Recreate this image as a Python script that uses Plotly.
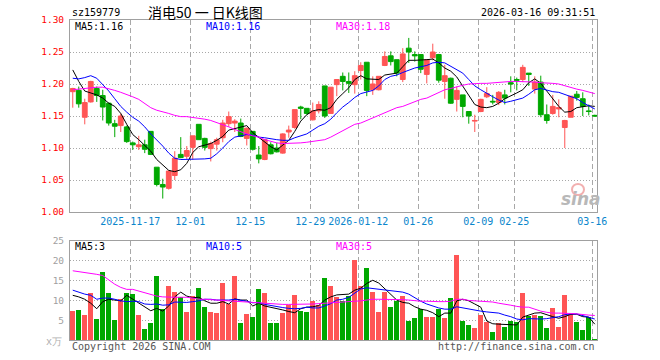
import plotly.graph_objects as go

# ---------------- data ----------------
days = {
    "2025-11": [3, 4, 5, 6, 7, 10, 11, 12, 13, 14, 17, 18, 19, 20, 21, 24, 25, 26, 27, 28],
    "2025-12": [1, 2, 3, 4, 5, 8, 9, 10, 11, 12, 15, 16, 17, 18, 19, 22, 23, 24, 25, 26, 29, 30, 31],
    "2026-01": [5, 6, 7, 8, 9, 12, 13, 14, 15, 16, 19, 20, 21, 22, 23, 26, 27, 28, 29, 30],
    "2026-02": [2, 3, 4, 5, 6, 9, 10, 11, 12, 13, 24, 25, 26, 27],
    "2026-03": [2, 3, 4, 5, 6, 9, 10, 11, 12, 13, 16],
}
dates = [f"{m}-{d:02d}" for m, ds in days.items() for d in ds]

opens = [1.188, 1.190, 1.148, 1.172, 1.193, 1.182, 1.170, 1.138, 1.135, 1.133,
         1.108, 1.102, 1.105, 1.126, 1.070, 1.043, 1.037, 1.057, 1.090, 1.087,
         1.101, 1.137, 1.115, 1.099, 1.106, 1.116, 1.138, 1.139, 1.139, 1.115,
         1.126, 1.089, 1.082, 1.105, 1.100, 1.092, 1.125, 1.132, 1.164, 1.162,
         1.144, 1.158, 1.197, 1.154, 1.199, 1.212, 1.204, 1.199, 1.221, 1.234,
         1.191, 1.191, 1.229, 1.244, 1.238, 1.207, 1.256, 1.246, 1.246, 1.215,
         1.241, 1.246, 1.204, 1.209, 1.176, 1.183, 1.157, 1.142, 1.157, 1.180,
         1.173, 1.171, 1.183, 1.202, 1.207, 1.207, 1.217, 1.192, 1.203, 1.152,
         1.154, 1.161, 1.132, 1.148, 1.184, 1.177, 1.158, 1.151]
highs = [1.194, 1.196, 1.177, 1.205, 1.196, 1.191, 1.171, 1.144, 1.154, 1.135,
         1.110, 1.119, 1.113, 1.126, 1.070, 1.052, 1.064, 1.095, 1.117, 1.103,
         1.119, 1.137, 1.116, 1.110, 1.116, 1.144, 1.157, 1.145, 1.146, 1.132,
         1.126, 1.103, 1.114, 1.109, 1.108, 1.123, 1.135, 1.160, 1.166, 1.162,
         1.171, 1.173, 1.197, 1.195, 1.207, 1.218, 1.218, 1.220, 1.234, 1.234,
         1.212, 1.212, 1.251, 1.251, 1.238, 1.256, 1.272, 1.251, 1.246, 1.239,
         1.263, 1.247, 1.230, 1.210, 1.196, 1.183, 1.157, 1.152, 1.177, 1.195,
         1.183, 1.189, 1.191, 1.212, 1.210, 1.230, 1.217, 1.212, 1.213, 1.168,
         1.183, 1.176, 1.144, 1.181, 1.189, 1.187, 1.168, 1.152]
lows = [1.163, 1.163, 1.137, 1.171, 1.172, 1.143, 1.135, 1.117, 1.125, 1.108,
        1.097, 1.097, 1.092, 1.089, 1.040, 1.021, 1.035, 1.050, 1.084, 1.083,
        1.082, 1.113, 1.096, 1.079, 1.096, 1.109, 1.133, 1.125, 1.117, 1.104,
        1.096, 1.076, 1.081, 1.090, 1.093, 1.091, 1.116, 1.130, 1.145, 1.152,
        1.143, 1.154, 1.147, 1.154, 1.181, 1.190, 1.186, 1.185, 1.207, 1.181,
        1.183, 1.190, 1.228, 1.229, 1.212, 1.203, 1.233, 1.235, 1.217, 1.201,
        1.237, 1.202, 1.177, 1.169, 1.157, 1.148, 1.138, 1.125, 1.156, 1.178,
        1.168, 1.167, 1.168, 1.187, 1.190, 1.203, 1.197, 1.185, 1.148, 1.138,
        1.152, 1.148, 1.100, 1.148, 1.174, 1.150, 1.151, 1.149]
closes = [1.193, 1.169, 1.171, 1.204, 1.182, 1.164, 1.139, 1.134, 1.150, 1.110,
          1.105, 1.105, 1.098, 1.090, 1.043, 1.039, 1.064, 1.084, 1.085, 1.096,
          1.119, 1.113, 1.101, 1.107, 1.113, 1.139, 1.149, 1.142, 1.118, 1.131,
          1.098, 1.083, 1.113, 1.091, 1.094, 1.122, 1.128, 1.160, 1.162, 1.154,
          1.158, 1.168, 1.150, 1.195, 1.207, 1.204, 1.201, 1.213, 1.229, 1.190,
          1.200, 1.212, 1.243, 1.235, 1.217, 1.247, 1.250, 1.244, 1.223, 1.238,
          1.250, 1.206, 1.213, 1.170, 1.190, 1.165, 1.150, 1.143, 1.176, 1.185,
          1.172, 1.187, 1.178, 1.200, 1.206, 1.226, 1.215, 1.203, 1.152, 1.143,
          1.165, 1.163, 1.143, 1.181, 1.179, 1.165, 1.157, 1.150]

ma5 = [1.222, 1.204, 1.189, 1.186, 1.183, 1.178, 1.170, 1.165, 1.154, 1.137,
       1.121, 1.113, 1.104, 1.095, 1.082, 1.074, 1.065, 1.063, 1.066, 1.076,
       1.093, 1.102, 1.104, 1.107, 1.112, 1.118, 1.128, 1.130, 1.133, 1.135,
       1.124, 1.117, 1.109, 1.102, 1.097, 1.104, 1.112, 1.126, 1.142, 1.152,
       1.158, 1.160, 1.159, 1.163, 1.176, 1.185, 1.194, 1.207, 1.213, 1.208,
       1.207, 1.207, 1.214, 1.215, 1.217, 1.227, 1.237, 1.237, 1.237, 1.238,
       1.239, 1.233, 1.225, 1.220, 1.211, 1.196, 1.183, 1.168, 1.164, 1.163,
       1.165, 1.170, 1.177, 1.181, 1.186, 1.191, 1.202, 1.208, 1.201, 1.189,
       1.177, 1.165, 1.156, 1.157, 1.163, 1.165, 1.166, 1.165]
ma10 = [1.209, 1.208, 1.210, 1.213, 1.209, 1.199, 1.189, 1.177, 1.165, 1.156,
        1.148, 1.142, 1.133, 1.122, 1.113, 1.103, 1.092, 1.084, 1.082, 1.082,
        1.082, 1.082, 1.083, 1.084, 1.091, 1.100, 1.110, 1.117, 1.119, 1.121,
        1.120, 1.117, 1.116, 1.114, 1.113, 1.112, 1.112, 1.116, 1.119, 1.122,
        1.128, 1.134, 1.138, 1.145, 1.155, 1.164, 1.171, 1.179, 1.185, 1.188,
        1.190, 1.197, 1.207, 1.212, 1.214, 1.218, 1.222, 1.225, 1.227, 1.229,
        1.233, 1.234, 1.233, 1.228, 1.223, 1.217, 1.207, 1.197, 1.191, 1.185,
        1.180, 1.175, 1.171, 1.173, 1.176, 1.178, 1.184, 1.191, 1.193, 1.190,
        1.188, 1.187, 1.184, 1.180, 1.177, 1.171, 1.166, 1.161]
ma30 = [1.191, 1.192, 1.194, 1.195, 1.195, 1.195, 1.193, 1.190, 1.187, 1.184,
        1.180, 1.176, 1.169, 1.163, 1.159, 1.157, 1.154, 1.151, 1.149, 1.149,
        1.148, 1.146, 1.145, 1.143, 1.140, 1.137, 1.133, 1.129, 1.125, 1.122,
        1.119, 1.117, 1.113, 1.110, 1.108, 1.107, 1.107, 1.107, 1.108, 1.109,
        1.110, 1.112, 1.113, 1.117, 1.122, 1.128, 1.133, 1.137, 1.139, 1.143,
        1.147, 1.151, 1.156, 1.160, 1.163, 1.165, 1.169, 1.173, 1.176, 1.178,
        1.182, 1.187, 1.191, 1.193, 1.196, 1.198, 1.200, 1.201, 1.201, 1.201,
        1.202, 1.203, 1.204, 1.204, 1.204, 1.204, 1.204, 1.203, 1.202, 1.202,
        1.201, 1.200, 1.197, 1.195, 1.192, 1.190, 1.188, 1.185]

volume = [7.3, 7.6, 6.3, 11.8, 5.3, 17.1, 11.8, 5.1, 10.3, 11.8,
          11.6, 6.3, 2.8, 4.3, 16.1, 7.8, 13.6, 12.2, 10.8, 7.1,
          11.2, 13.1, 8.3, 7.1, 6.8, 14.3, 9.1, 16.1, 4.3, 6.6,
          5.8, 12.8, 11.8, 4.3, 4.3, 6.8, 8.8, 11.3, 7.3, 7.1,
          9.8, 8.8, 15.8, 13.6, 10.9, 9.9, 11.1, 20.1, 13.6, 18.1,
          12.1, 7.1, 12.1, 8.3, 9.8, 11.1, 4.8, 5.6, 7.8, 5.8,
          5.8, 7.8, 5.6, 10.6, 21.6, 4.8, 3.8, 3.1, 6.3, 4.6,
          2.1, 4.3, 3.3, 4.8, 4.6, 11.8, 6.1, 6.3, 6.1, 3.1,
          8.1, 3.3, 11.3, 6.6, 4.6, 2.6, 5.8, 0.3]
vma5 = [11.3, 10.9, 10.3, 9.3, 7.9, 9.7, 10.3, 10.1, 9.9, 11.3,
        10.3, 9.4, 8.3, 7.4, 8.0, 7.3, 8.6, 10.9, 12.1, 11.1,
        10.7, 10.8, 9.9, 9.3, 9.3, 9.7, 9.1, 10.4, 10.1, 10.1,
        8.6, 9.3, 8.6, 8.3, 8.0, 7.6, 7.2, 6.9, 7.9, 8.3,
        8.4, 8.7, 10.1, 10.9, 11.4, 11.5, 11.6, 12.6, 13.1, 14.3,
        15.1, 14.4, 12.9, 11.6, 10.1, 9.5, 9.3, 8.4, 7.8, 7.5,
        6.9, 5.9, 6.8, 6.8, 9.9, 10.3, 9.9, 9.1, 8.3, 4.8,
        4.1, 4.0, 3.9, 3.9, 3.8, 5.8, 6.3, 6.8, 6.9, 6.3,
        5.9, 5.5, 5.9, 6.5, 6.5, 5.9, 5.8, 4.0]
vma10 = [12.6, 12.1, 11.6, 11.3, 10.3, 10.6, 10.6, 10.3, 9.9, 9.7,
         9.8, 9.7, 9.1, 9.0, 9.1, 8.8, 8.9, 9.6, 9.6, 9.5,
         9.7, 9.9, 10.3, 10.3, 10.1, 10.1, 10.1, 10.3, 10.1, 9.8,
         9.4, 9.5, 9.0, 8.7, 8.4, 8.2, 8.0, 7.9, 8.0, 8.3,
         8.1, 8.1, 8.6, 9.2, 10.1, 10.3, 10.8, 11.9, 12.9, 13.2,
         13.0, 12.8, 12.6, 12.4, 12.2, 12.1, 11.6, 10.6, 9.8, 9.1,
         8.6, 8.1, 7.8, 7.8, 8.4, 8.1, 7.8, 7.6, 7.3, 7.1,
         6.9, 6.8, 6.3, 5.9, 5.3, 5.1, 5.4, 5.3, 5.3, 5.4,
         5.6, 5.9, 6.4, 6.6, 6.6, 6.1, 5.8, 5.3]
vma30 = [17.5, 17.3, 17.1, 16.9, 16.6, 16.3, 15.1, 14.1, 13.3, 12.8,
         12.8, 12.4, 11.9, 11.4, 11.1, 10.9, 10.8, 10.8, 10.8, 10.8,
         10.6, 10.3, 10.3, 10.2, 10.1, 10.0, 9.9, 9.8, 9.7, 9.6,
         9.4, 9.3, 9.3, 9.1, 9.0, 9.0, 9.0, 9.0, 9.0, 9.1,
         9.1, 9.2, 9.3, 9.3, 9.4, 9.5, 9.7, 9.8, 9.9, 10.1,
         10.3, 10.3, 10.3, 10.3, 10.3, 10.2, 10.1, 9.9, 9.8, 9.8,
         9.7, 9.7, 9.7, 9.8, 10.3, 10.3, 10.0, 9.9, 9.8, 9.7,
         9.6, 9.3, 9.1, 8.8, 8.5, 8.3, 8.3, 7.8, 7.3, 7.0,
         6.8, 6.8, 6.8, 6.7, 6.6, 6.4, 6.3, 6.2]

# legend readouts as shown on the chart
price_ma_labels = ["MA5:1.16", "MA10:1.16", "MA30:1.18"]
vol_ma_labels = ["MA5:3", "MA10:5", "MA30:5"]

tick_dates = ["2025-11-17", "2025-12-01", "2025-12-15", "2025-12-29", "2026-01-12",
              "2026-01-26", "2026-02-09", "2026-02-25", "2026-03-16"]
tick_text = ["2025-11-17", "12-01", "12-15", "12-29", "2026-01-12",
             "01-26", "02-09", "02-25", "03-16"]
price_ticks = [1.00, 1.05, 1.10, 1.15, 1.20, 1.25, 1.30]
vol_ticks = [5, 10, 15, 20, 25]

# ---------------- style ----------------
RED = "#ff5555"
GREEN = "#00a800"
BLUE_TXT = "#0a86cc"
FRAME = "#a0a0a0"
GRID = "#a8a8a8"
MONO = "DejaVu Sans Mono, Liberation Mono, monospace"
MA_COLORS = ["black", "#0000ff", "#ff00ff"]

x = list(range(len(dates)))
tick_pos = [dates.index(d) - 0.42 for d in tick_dates]
vol_colors = [RED if c >= o else GREEN for o, c in zip(opens, closes)]

fig = go.Figure()
fig.add_trace(go.Candlestick(
    x=x, open=opens, high=highs, low=lows, close=closes,
    increasing=dict(line=dict(color=RED, width=1), fillcolor=RED),
    decreasing=dict(line=dict(color=GREEN, width=1), fillcolor=GREEN),
    whiskerwidth=0, hoverinfo="skip", xaxis="x", yaxis="y", showlegend=False))
for arr, col in zip([ma5, ma10, ma30], MA_COLORS):
    fig.add_trace(go.Scatter(x=x, y=arr, mode="lines", line=dict(color=col, width=1),
                             hoverinfo="skip", xaxis="x", yaxis="y", showlegend=False))

fig.add_trace(go.Bar(x=x, y=volume, width=0.83, marker=dict(color=vol_colors, line=dict(width=0)),
                     hoverinfo="skip", xaxis="x2", yaxis="y2", showlegend=False))
for arr, col in zip([vma5, vma10, vma30], MA_COLORS):
    fig.add_trace(go.Scatter(x=x, y=arr, mode="lines", line=dict(color=col, width=1),
                             hoverinfo="skip", xaxis="x2", yaxis="y2", showlegend=False))

xr = [-0.46, 87.37]
common_x = dict(range=xr, showgrid=True, gridcolor=GRID, griddash="5px,3px", gridwidth=1,
                showline=True, mirror=True, linecolor=FRAME, linewidth=1, zeroline=False,
                tickvals=tick_pos, ticktext=tick_text, ticks="", fixedrange=True)

fig.update_layout(
    width=660, height=360,
    margin=dict(l=70, r=63, t=20, b=20),
    paper_bgcolor="white", plot_bgcolor="white",
    boxgap=0.2, boxgroupgap=0, bargap=0,
    font=dict(family=MONO, size=10, color="black"),
    xaxis=dict(common_x, anchor="y", domain=[0, 1],
               tickfont=dict(family=MONO, size=10, color=BLUE_TXT),
               rangeslider=dict(visible=False)),
    xaxis2=dict(common_x, anchor="y2", domain=[0, 1], showticklabels=False, matches="x"),
    yaxis=dict(domain=[0.4, 1.0], range=[1.0, 1.3], tickvals=price_ticks, tickformat=".2f",
               tickfont=dict(family=MONO, size=9.5, color="#ff0000"),
               showgrid=True, gridcolor=GRID, griddash="1px,2px", gridwidth=1,
               showline=True, mirror=True, linecolor=FRAME, linewidth=1, zeroline=False,
               ticks="outside", ticklen=3, tickcolor="rgba(0,0,0,0)", fixedrange=True),
    yaxis2=dict(domain=[0.0, 0.309], range=[0, 25], tickvals=vol_ticks,
                tickfont=dict(family=MONO, size=9.5, color="#a0a0a0"),
                showgrid=True, gridcolor=GRID, griddash="1px,2px", gridwidth=1,
                showline=True, mirror=True, linecolor=FRAME, linewidth=1, zeroline=False,
                ticks="outside", ticklen=3, tickcolor="rgba(0,0,0,0)", fixedrange=True),
)

def px_x(px):
    return (px - 70) / 527.0

def px_y(py):
    return (340 - py) / 320.0

ann = []
def add(text, xp, yp, anchor="left", color="black", size=10, family=MONO, **kw):
    ann.append(dict(text=text, x=px_x(xp), y=px_y(yp), xref="paper", yref="paper",
                    xanchor=anchor, yanchor="middle", showarrow=False,
                    font=dict(family=family, size=size, color=color), **kw))

add("sz159779", 70, 12.5)
add("消电50 一 日K线图", 205, 12, anchor="center", size=14,
    family="Noto Sans CJK SC, sans-serif")
add("2026-03-16 09:31:51", 597, 12.5, anchor="right")
for lbl, col, xp in zip(price_ma_labels, MA_COLORS, [73, 204, 334]):
    add(lbl, xp, 26, color=col)
for lbl, col, xp in zip(vol_ma_labels, MA_COLORS, [73, 204, 334]):
    add(lbl, xp, 246.5, color=col)
add("x万", 64, 341, anchor="right", color="#b0b0b0", size=10)
add("Copyright 2026 SINA.COM", 70, 346, color="#555555")
add("http://finance.sina.com.cn", 597, 346, anchor="right", color="#555555")
add("<b><i>sina</i></b>", 581, 199, anchor="center", color="#b8b8b8", size=17,
    family="DejaVu Sans, sans-serif")
fig.update_layout(annotations=ann)

# faint eye of the sina watermark
fig.add_shape(type="circle", xref="paper", yref="paper",
              x0=px_x(572), x1=px_x(584), y0=px_y(195), y1=px_y(184),
              line=dict(color="#f2b0b0", width=2), fillcolor="rgba(0,0,0,0)")

fig.write_html("out.html", config={"displayModeBar": False, "staticPlot": True},
               post_script="document.body.style.margin='0';")
